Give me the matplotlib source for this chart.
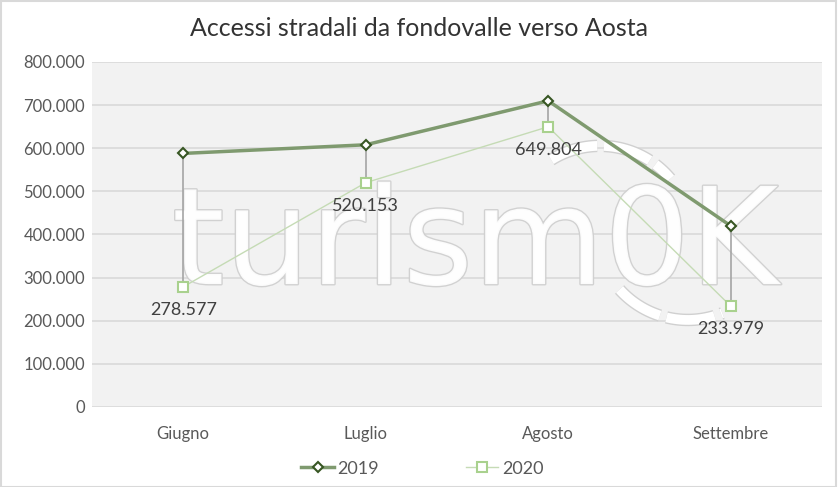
import matplotlib
matplotlib.use('Agg')
import numpy as np
import matplotlib.pyplot as plt
import matplotlib.patheffects as pe
from matplotlib.patches import Rectangle
from matplotlib.ticker import FuncFormatter

# dati: accessi mensili
mesi = ['Giugno', 'Luglio', 'Agosto', 'Settembre']
val_2019 = [588000, 608000, 710000, 420000]
val_2020 = [278577, 520153, 649804, 233979]

plt.rcParams['font.family'] = ['Lato', 'DejaVu Sans']

fig = plt.figure(figsize=(8.38, 4.87), dpi=100)
fig.patches.append(Rectangle((0.001, 0.001), 0.997, 0.996, transform=fig.transFigure,
                             fill=False, edgecolor='#d9d9d9', linewidth=1.5))
ax = fig.add_axes([0.1098, 0.1643, 0.871, 0.7084])
ax.set_facecolor('#f2f2f2')

x = list(range(len(mesi)))

# watermark (decorativo)
ax.text(1.6, 285000, 'turism0K', ha='center', va='baseline', fontsize=97,
        family='DejaVu Sans', color='white', alpha=0.92, zorder=1,
        path_effects=[pe.Stroke(linewidth=2, foreground='#cfcfcf'), pe.Normal()])


def px2data(px, py):
    return (px - 92) / 182.5 - 0.5, (407 - py) / 43.1 * 100000


arc_fx = [pe.Stroke(linewidth=9, foreground='#d0d0d0'), pe.Normal()]
for cx, cy, a0, a1 in [(600, 238, 122, 40), (688, 228, 222, 292)]:
    t = np.radians(np.linspace(a0, a1, 40))
    ax_, ay_ = px2data(cx + 92 * np.cos(t), cy - 92 * np.sin(t))
    ax.plot(ax_, ay_, color='white', lw=7, zorder=1, solid_capstyle='butt',
            linestyle=(0, (5, 0.7)), path_effects=arc_fx)

# linee di collegamento
for xi, a, b in zip(x, val_2019, val_2020):
    ax.plot([xi, xi], [a, b], color='#a5a5a5', lw=1.2, zorder=2)

ax.plot(x, val_2019, color='#7f9a6f', lw=2.5, marker='D', markersize=5,
        markerfacecolor='white', markeredgecolor='#375623', markeredgewidth=1.5,
        label='2019', zorder=4)
ax.plot(x, val_2020, color='#c5dbb5', lw=1, marker='s', markersize=7,
        markerfacecolor='white', markeredgecolor='#a9d18e', markeredgewidth=1.5,
        label='2020', zorder=3)

for xi, v in zip(x, val_2020):
    ax.annotate(f'{v:,}'.replace(',', '.'), (xi, v), xytext=(0, -11),
                textcoords='offset points', ha='center', va='top',
                fontsize=13, color='#404040', zorder=5)

ax.set_xlim(-0.5, 3.5)
ax.set_ylim(0, 800000)
ax.set_yticks(range(0, 800001, 100000))
ax.yaxis.set_major_formatter(FuncFormatter(lambda v, p: f'{int(v):,}'.replace(',', '.')))
ax.set_xticks(x)
ax.set_xticklabels(mesi)
ax.tick_params(length=0, labelsize=12, colors='#595959')
ax.tick_params(axis='x', pad=14)
ax.tick_params(axis='y', pad=5)
ax.grid(axis='y', color='#d9d9d9', lw=1.2)
ax.set_axisbelow(True)
for s in ax.spines.values():
    s.set_visible(False)

fig.suptitle('Accessi stradali da fondovalle verso Aosta', y=0.965, fontsize=18,
             color='#333333')
fig.legend(loc='lower center', bbox_to_anchor=(0.504, -0.012), ncol=2, frameon=False,
           fontsize=13, labelcolor='#595959', columnspacing=4.8, handlelength=1.8,
           handletextpad=0.2)

plt.savefig('out.png', dpi=100)
